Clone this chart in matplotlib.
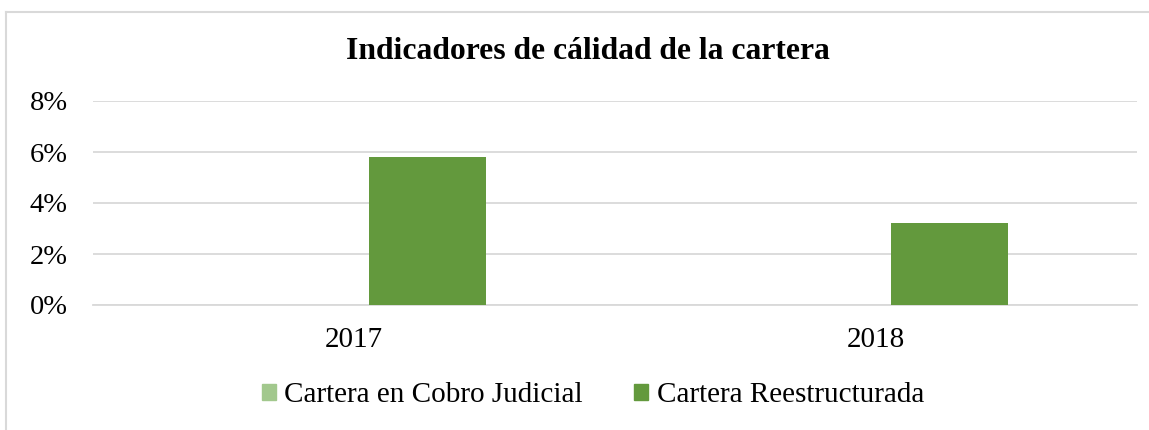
import matplotlib
matplotlib.use("Agg")
import matplotlib.pyplot as plt
from matplotlib.lines import Line2D
from matplotlib.patches import Patch
import numpy as np

categories = ["2017", "2018"]
series_names = ["Cartera en Cobro Judicial", "Cartera Reestructurada"]
cobro_judicial = [0.0, 0.0]
reestructurada = [0.058, 0.032]
y_ticks = [0.0, 0.02, 0.04, 0.06, 0.08]
y_tick_labels = ["0%", "2%", "4%", "6%", "8%"]
title = "Indicadores de cálidad de la cartera"

colors = ["#A2C88D", "#63993D"]
W, H = 1149, 430
fig = plt.figure(figsize=(W / 100, H / 100), dpi=100)
plt.rcParams['font.family'] = ['Liberation Serif', 'DejaVu Serif']

ax = fig.add_axes([93 / W, 125 / H, (1137 - 93) / W, (305 - 101) / H])
x = np.arange(len(categories))
bw = 0.2236
off = 0.141
ax.bar(x - off, cobro_judicial, bw, color=colors[0], zorder=3)
ax.bar(x + off, reestructurada, bw, color=colors[1], zorder=3)
ax.set_xlim(-0.5, 1.5)
ax.set_ylim(0, 0.08)
ax.set_yticks(y_ticks)
ax.set_yticklabels(y_tick_labels, fontsize=20.5)
ax.set_xticks(x)
ax.set_xticklabels(categories, fontsize=21)
ax.tick_params(axis='y', length=0, pad=18)
ax.tick_params(axis='x', length=0, pad=16)
ax.grid(axis='y', color='#D9D9D9', lw=1.3, zorder=0)
for s in ['top', 'right', 'left']:
    ax.spines[s].set_visible(False)
ax.spines['bottom'].set_color('#D9D9D9')
ax.spines['bottom'].set_linewidth(1.3)

fig.text(588 / W, 1 - 59 / H, title, ha='center', va='baseline',
         fontsize=22.8, fontweight='bold')

handles = [Patch(color=colors[0]), Patch(color=colors[1])]
fig.legend(handles, series_names, loc='center', bbox_to_anchor=(593 / W, 1 - 395 / H),
           ncol=2, frameon=False, fontsize=21, handlelength=0.48, handleheight=0.48,
           handletextpad=0.3, columnspacing=1.75)

# chart border (extends beyond the right and bottom edges)
fig.add_artist(Line2D([5.5 / W, 5.5 / W], [0, 1 - 11.5 / H], color='#D9D9D9', lw=1.5,
                      transform=fig.transFigure))
fig.add_artist(Line2D([5.5 / W, 1], [1 - 11.5 / H, 1 - 11.5 / H], color='#D9D9D9', lw=1.5,
                      transform=fig.transFigure))

fig.savefig("out.png", dpi=100, facecolor='white')
